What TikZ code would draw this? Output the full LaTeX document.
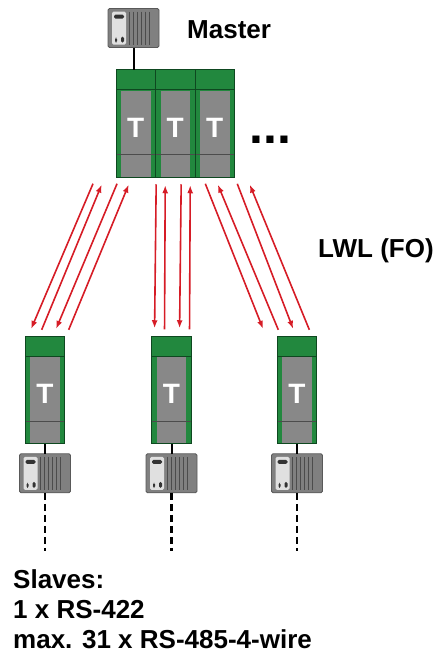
\documentclass[tikz,border=0pt]{standalone}
\usepackage{fontspec}
\setmainfont{Liberation Sans}
\usetikzlibrary{positioning,calc,arrows.meta}

\definecolor{modgreen}{RGB}{34,136,62}
\definecolor{moddark}{RGB}{14,72,32}
\definecolor{modgrey}{RGB}{136,136,136}
\definecolor{fored}{RGB}{214,28,38}
\definecolor{ctrlgrey}{RGB}{128,128,128}

\newcommand\Tfont{\fontsize{28}{28}\selectfont\bfseries}

\tikzset{
  module/.style={rectangle, draw=moddark, fill=modgreen, line width=1pt, outer sep=0pt, inner sep=0pt,
    minimum width=39.5pt, minimum height=107.5pt,
    path picture={
      \fill[modgrey] ($(path picture bounding box.north west)+(5,21)$) rectangle ($(path picture bounding box.south east)+(-5,0)$);
      \draw[moddark, line width=1pt] ($(path picture bounding box.north west)+(0,20)$) -- ($(path picture bounding box.north east)+(0,20)$);
      \draw[black!70, line width=0.8pt] ($(path picture bounding box.north west)+(0,85)$) -- ($(path picture bounding box.north east)+(0,85)$);
    },
    label={[text=white, font=\Tfont, yshift=-4pt]center:T}},
  ctrl/.style={rectangle, draw=black!65, fill=ctrlgrey, line width=0.8pt, rounded corners=1.5pt, outer sep=0pt, inner sep=0pt,
    minimum width=51pt, minimum height=39pt,
    path picture={
      \coordinate (nw) at (path picture bounding box.north west);
      \fill[black!12] ($(nw)+(4,3)$) rectangle ($(nw)+(18,36)$);
      \fill[black!80] ($(nw)+(6,6)$) rectangle ($(nw)+(16,10)$);
      \fill[black!80] ($(nw)+(7,29)$) rectangle ($(nw)+(9,34)$);
      \fill[black!80] ($(nw)+(13,28)$) rectangle ($(nw)+(16,34)$);
      \foreach \i in {21,25,...,41} \draw[black!70, line width=0.8pt] ($(nw)+(\i,3)$) -- ($(nw)+(\i,36)$);
    }},
  link/.style={line width=2pt},
  bus/.style={line width=2.5pt, dash pattern=on 7pt off 4pt},
  fo/.style={fored, line width=1.6pt, -{Latex[length=8pt,width=6pt]}, shorten <=7pt, shorten >=8pt},
  lbl/.style={font=\fontsize{26}{30}\selectfont\bfseries, inner sep=0pt}
}

\begin{document}
\begin{tikzpicture}[x=1pt, y=-1pt]
    \useasboundingbox (0,0) rectangle (438,659);

    % master side
    \node[ctrl] (c0) at (133.5,28) {};
    \node[module] (m1) at (135.75,123.5) {};
    \node[module, right=0pt of m1] (m2) {};
    \node[module, right=0pt of m2] (m3) {};
    \draw[link] (c0.south) -- (c0.south |- m1.north);
    \node[lbl, anchor=base west] (master) at (187,38) {Master};
    \node[font=\fontsize{50}{50}\selectfont\bfseries, inner sep=0pt, anchor=base west] (more) at (249.5,143) {...};

    % slaves
    \node[module] (s1) at (45,390) {};
    \node[module, right=87pt of s1] (s2) {};
    \node[module, right=86pt of s2] (s3) {};
    \foreach \i in {1,2,3} {
        \node[ctrl, below=10pt of s\i] (c\i) {};
        \coordinate[below=58pt of c\i] (d\i);
        \draw[link] (s\i.south) -- (c\i.north);
        \draw[bus] (c\i.south) -- (d\i);
    }

    % fibre optic links
    \foreach \a/\p/\b/\q in {m1.south/-40/s1.north/-17, s1.north/-6/m1.south/-31, m1.south/-16/s1.north/8, s1.north/21/m1.south/-4,
                             m2.south/-19/s2.north/-17, s2.north/-7/m2.south/-10, m2.south/6/s2.north/8, s2.north/18/m2.south/15,
                             m3.south/-12/s3.north/-31, s3.north/-16/m3.south/0, m3.south/20/s3.north/-1, s3.north/15/m3.south/32}
        \draw[fo] ([xshift=\p pt]\a) -- ([xshift=\q pt]\b);

    \node[lbl, anchor=base west] (lwl) at (318,257) {LWL (FO)};
    \node[lbl, anchor=north west, align=left] (slaves) at (13,569) {Slaves:\\1 x RS-422\\max. 31 x RS-485-4-wire};
\end{tikzpicture}
\end{document}
